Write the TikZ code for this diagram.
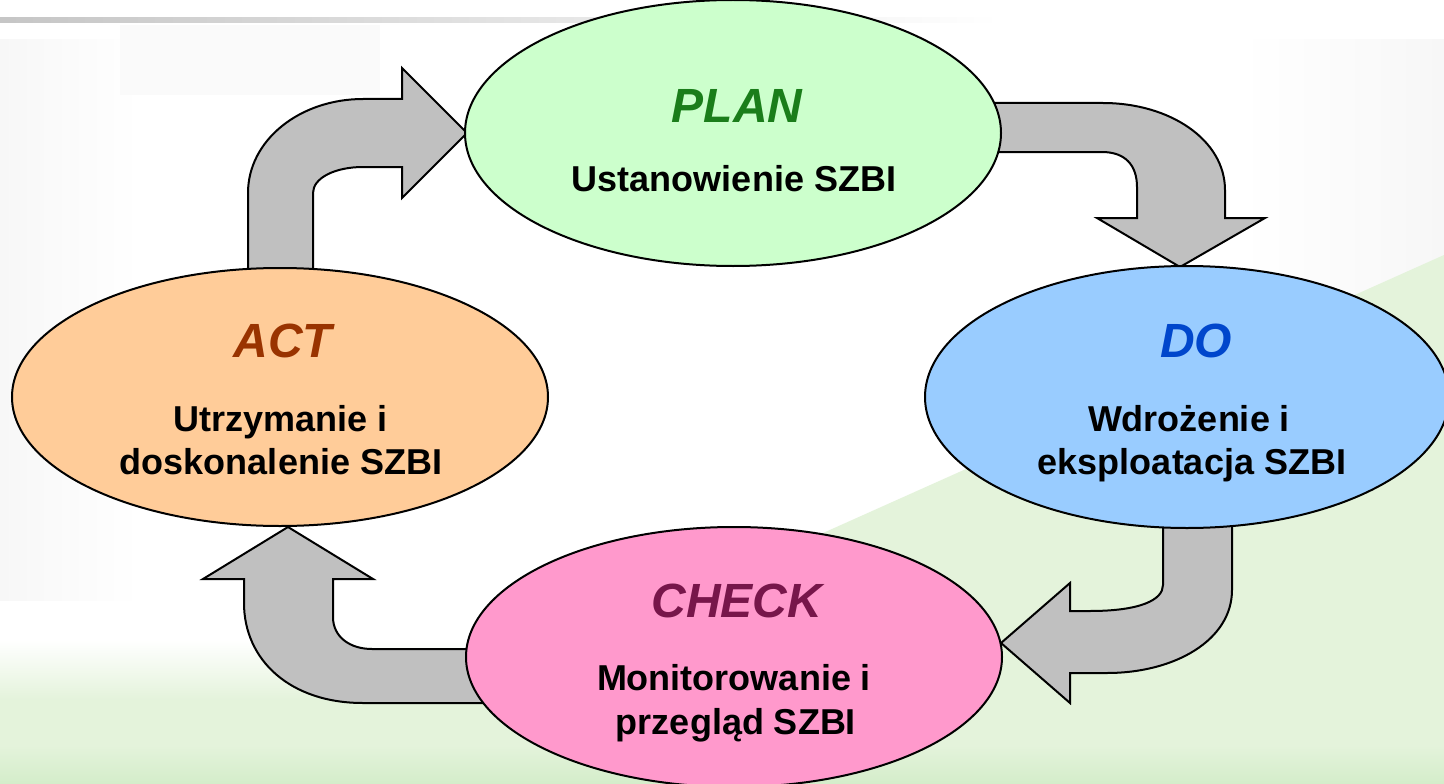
\documentclass[tikz,border=0pt]{standalone}
\usepackage{fontspec}
\setmainfont{Liberation Sans}
\usetikzlibrary{shapes.geometric}
\definecolor{planfill}{HTML}{CCFFCC}
\definecolor{dofill}{HTML}{99CCFF}
\definecolor{actfill}{HTML}{FFCC99}
\definecolor{checkfill}{HTML}{FF99CC}
\definecolor{plantext}{RGB}{26,125,26}
\definecolor{dotext}{RGB}{0,70,204}
\definecolor{acttext}{RGB}{153,51,0}
\definecolor{checktext}{RGB}{119,22,74}
\definecolor{arrowgray}{HTML}{C0C0C0}
\definecolor{bggreen}{RGB}{228,243,219}
\definecolor{bggreendark}{RGB}{212,237,202}
\definecolor{bggray}{RGB}{247,247,247}
\begin{document}
\begin{tikzpicture}[x=1pt,y=-1pt,
  phase/.style={ellipse, draw=black, line width=2pt, inner sep=0pt},
  blockarrow/.style={fill=arrowgray, draw=black, line width=2pt, line join=miter},
  phasetitle/.style={font=\fontsize{48}{48}\selectfont\bfseries\itshape, anchor=base, inner sep=0pt},
  phasebody/.style={font=\fontsize{36}{43}\selectfont\bfseries, anchor=base, inner sep=0pt, text=black}]
\useasboundingbox (0,0) rectangle (1444,784);
\clip (0,0) rectangle (1444,784);
% background
\fill[white] (0,0) rectangle (1444,784);
\shade[left color=bggray, right color=white] (0,40) rectangle (140,600);
\fill[bggray!60] (120,25) rectangle (380,95);
\shade[left color=white, right color=bggray] (1240,40) rectangle (1444,300);
\shade[left color=gray!45, right color=white] (0,18) rectangle (1000,23);
\shade[top color=white, bottom color=bggreen] (0,640) rectangle (1444,700);
\fill[bggreen] (1444,255) -- (1444,784) -- (0,784) -- (0,700) -- (450,700) -- cycle;
\shade[top color=bggreen, bottom color=bggreendark] (0,745) rectangle (1444,784);
% block arrows
\draw[blockarrow] (248,285) -- (248,193) .. controls (248,140) and (300,99) .. (363,99)
  -- (402,99) -- (402,68) -- (467,133) -- (402,198) -- (402,167) -- (363,167)
  .. controls (335,167) and (313,178) .. (313,193) -- (313,285) -- cycle;
\draw[blockarrow] (985,103) -- (1103,103) .. controls (1170,103) and (1225,140) .. (1225,190)
  -- (1225,218) -- (1265,218) -- (1180,267) -- (1097,218) -- (1137,218) -- (1137,187)
  .. controls (1137,165) and (1125,152) .. (1102,152) -- (985,152) -- cycle;
\draw[blockarrow] (1232,510) -- (1232,590) .. controls (1232,640) and (1175,673) .. (1107,673)
  -- (1070,673) -- (1070,703) -- (1001,643) -- (1070,583) -- (1070,611) -- (1090,611)
  .. controls (1140,611) and (1163,600) .. (1163,585) -- (1163,510) -- cycle;
\draw[blockarrow] (495,703) -- (363,703) .. controls (290,703) and (244,660) .. (244,603)
  -- (244,579) -- (203,579) -- (288,527) -- (373,579) -- (333,579) -- (333,617)
  .. controls (333,637) and (350,649) .. (372,649) -- (495,649) -- cycle;
% phases
\node[phase, fill=planfill, minimum width=536pt, minimum height=266pt] (plan) at (733,133) {};
\node[phase, fill=dofill, minimum width=524pt, minimum height=262pt] (do) at (1187,397) {};
\node[phase, fill=actfill, minimum width=536pt, minimum height=258pt] (act) at (280,397) {};
\node[phase, fill=checkfill, minimum width=536pt, minimum height=260pt] (check) at (734,657) {};
% texts
\node[phasetitle, text=plantext] (planT) at (737,122) {PLAN};
\node[phasebody] (planB) at (734,191) {Ustanowienie SZBI};
\node[phasetitle, text=dotext] (doT) at (1196,357) {DO};
\node[phasebody] (doB1) at (1189,431) {Wdrożenie i};
\node[phasebody] (doB2) at (1192,474) {eksploatacja SZBI};
\node[phasetitle, text=acttext] (actT) at (283,357) {ACT};
\node[phasebody] (actB1) at (281,431) {Utrzymanie i};
\node[phasebody] (actB2) at (281,474) {doskonalenie SZBI};
\node[phasetitle, text=checktext] (checkT) at (737,617) {CHECK};
\node[phasebody] (checkB1) at (734,690) {Monitorowanie i};
\node[phasebody] (checkB2) at (736,734) {przegląd SZBI};
\end{tikzpicture}
\end{document}
